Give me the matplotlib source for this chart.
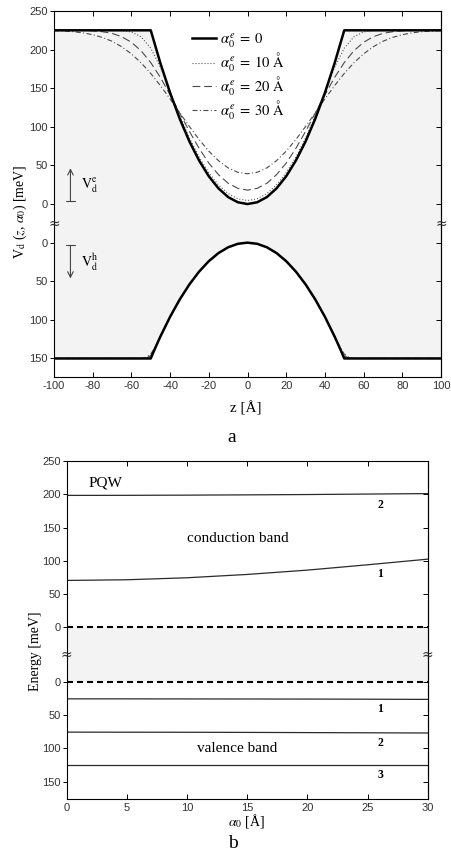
import numpy as np
import matplotlib
matplotlib.use("Agg")
import matplotlib.pyplot as plt
from matplotlib.transforms import blended_transform_factory

# ---------------- panel a : potential profiles ----------------
z_e = np.arange(-100, 101, 5)
# conduction band potential V_d^e [meV] for alpha0 = 0, 10, 20, 30 A
Ve_0 = [225, 225, 225, 225, 225, 225, 225, 225, 225, 225, 225,
        182.3, 144, 110.3, 81, 56.3, 36, 20.3, 9, 2.3, 0,
        2.3, 9, 20.3, 36, 56.3, 81, 110.3, 144, 182.3,
        225, 225, 225, 225, 225, 225, 225, 225, 225, 225, 225]
Ve_10 = [225, 225, 225, 225, 225, 225, 225, 224.6, 222.9, 216.6, 201.9,
         177.1, 146.1, 114.3, 85.5, 60.8, 40.5, 24.8, 13.5, 6.8, 4.5,
         6.8, 13.5, 24.8, 40.5, 60.8, 85.5, 114.3, 146.1, 177.1,
         201.9, 216.6, 222.9, 224.6, 225, 225, 225, 225, 225, 225, 225]
Ve_20 = [225, 225, 225, 224.8, 224.3, 223.2, 221.0, 216.7, 209.5, 198.5, 183.2,
         163.9, 141.5, 117.6, 94.0, 72.1, 53.1, 38.0, 26.9, 20.3, 18.0,
         20.3, 26.9, 38.0, 53.1, 72.1, 94.0, 117.6, 141.5, 163.9,
         183.2, 198.5, 209.5, 216.7, 221.0, 223.2, 224.3, 224.8, 225, 225, 225]
Ve_30 = [224.5, 224.0, 223.2, 221.7, 219.3, 215.8, 210.8, 203.7, 194.5, 182.9, 169.1,
         153.3, 136.1, 118.1, 100.4, 83.5, 68.5, 56.1, 46.8, 41.1, 39.2,
         41.1, 46.8, 56.1, 68.5, 83.5, 100.4, 118.1, 136.1, 153.3,
         169.1, 182.9, 194.5, 203.7, 210.8, 215.8, 219.3, 221.7, 223.2, 224.0, 224.5]

z_h = [-100, -60, -55, -52.5, -50, -47.5, -45, -40, -35, -30, -25, -20, -15, -10, -5, 0,
       5, 10, 15, 20, 25, 30, 35, 40, 45, 47.5, 50, 52.5, 55, 60, 100]
# valence band potential V_d^h [meV]
Vh_0 = [150, 150, 150, 150, 150, 135.4, 121.5, 96, 73.5, 54, 37.5, 24, 13.5, 6, 1.5, 0,
        1.5, 6, 13.5, 24, 37.5, 54, 73.5, 96, 121.5, 135.4, 150, 150, 150, 150, 150]
Vh_10 = [150, 150, 150, 149.9, 148.1, 135.5, 121.5, 96, 73.5, 54, 37.5, 24, 13.5, 6, 1.5, 0,
         1.5, 6, 13.5, 24, 37.5, 54, 73.5, 96, 121.5, 135.5, 148.1, 149.9, 150, 150, 150]
Vh_20 = [150, 150, 150, 149.8, 146.3, 135.3, 121.6, 96, 73.5, 54, 37.5, 24, 13.5, 6, 1.5, 0,
         1.5, 6, 13.5, 24, 37.5, 54, 73.5, 96, 121.6, 135.3, 146.3, 149.8, 150, 150, 150]
Vh_30 = [150, 150, 149.9, 148.8, 144.2, 134.5, 121.8, 96, 73.5, 54, 37.5, 24, 13.5, 6, 1.5, 0,
         1.5, 6, 13.5, 24, 37.5, 54, 73.5, 96, 121.8, 134.5, 144.2, 148.8, 149.9, 150, 150]

legend_labels = [r"$\alpha_0^e\;=\;0$", r"$\alpha_0^e\;=\;10\ \mathrm{Å}$",
                 r"$\alpha_0^e\;=\;20\ \mathrm{Å}$", r"$\alpha_0^e\;=\;30\ \mathrm{Å}$"]

# ---------------- panel b : subband energies ----------------
alpha0 = [0, 5, 10, 15, 20, 25, 30]
Ec_1 = [70.5, 71.5, 74.5, 79.5, 86.0, 94.0, 102.5]
Ec_2 = [198.3, 198.4, 198.7, 199.1, 199.6, 200.3, 201.0]
Ev_1 = [25.5, 25.5, 25.6, 25.7, 25.8, 26.0, 26.3]
Ev_2 = [75.5, 75.6, 75.7, 75.9, 76.2, 76.5, 76.8]
Ev_3 = [124.5, 124.5, 124.5, 124.5, 124.5, 124.5, 124.5]

up_ticks = [0, 50, 100, 150, 200, 250]
down_ticks = [0, 50, 100, 150]

GAP_A = 50   # empty space (meV units) at the axis break, panel a
GAP_B = 82   # same for panel b

plt.rcParams["font.family"] = "Liberation Serif"
plt.rcParams["mathtext.fontset"] = "stix"
plt.rcParams["axes.unicode_minus"] = False

FILL = "#f3f3f3"
TICKC = "#333333"


def down(v, gap):
    # holes are drawn downwards below the break
    return -gap - np.asarray(v, dtype=float)


def broken_axis(ax, gap, ymin, fs):
    ax.set_ylim(ymin, 250)
    pos = [-gap - t for t in down_ticks[::-1]] + up_ticks
    lab = [str(t) for t in down_ticks[::-1]] + [str(t) for t in up_ticks]
    ax.set_yticks(pos)
    ax.set_yticklabels(lab, fontfamily="Liberation Sans", fontsize=fs, color=TICKC)
    ax.tick_params(axis="y", direction="out", length=3, width=0.7, pad=1.5)
    ax.tick_params(axis="x", direction="in", length=3.5, width=0.7, top=True,
                   labelsize=fs, labelcolor=TICKC, pad=3)
    for lb in ax.get_xticklabels():
        lb.set_fontfamily("Liberation Sans")
    sec = ax.secondary_yaxis("right")
    sec.set_yticks(pos)
    sec.tick_params(direction="in", length=3.5, width=0.7, labelright=False)
    for s in ax.spines.values():
        s.set_linewidth(0.8)
    tr = blended_transform_factory(ax.transAxes, ax.transData)
    for xx in (0, 1):
        ax.text(xx, -gap / 2, "\u2248", transform=tr, ha="center", va="center",
                fontsize=10, family="DejaVu Sans", color="#333333", clip_on=False)


fig = plt.figure(figsize=(4.51, 8.66), dpi=100)
ax_a = fig.add_axes([54 / 451, 1 - 377 / 866, (441 - 54) / 451, (377 - 11) / 866])
ax_b = fig.add_axes([66.7 / 451, 1 - 799 / 866, (427.7 - 66.7) / 451, (799 - 461) / 866])

# ---- panel a ----
ax_a.fill(np.concatenate([z_e, z_h[::-1]]),
          np.concatenate([Ve_0, down(Vh_0, GAP_A)[::-1]]),
          color=FILL, lw=0, zorder=0)
styles = [dict(color="black", lw=1.8, ls="-"),
          dict(color="#4a4a4a", lw=0.8, ls=(0, (0.9, 1.8))),
          dict(color="#4a4a4a", lw=0.8, ls=(0, (7, 3.5))),
          dict(color="#4a4a4a", lw=0.8, ls=(0, (4.5, 2.2, 0.9, 2.2)))]
handles = []
for ve, vh, st in zip([Ve_0, Ve_10, Ve_20, Ve_30], [Vh_0, Vh_10, Vh_20, Vh_30], styles):
    h, = ax_a.plot(z_e, ve, **st, zorder=3 if st["lw"] > 1 else 2)
    ax_a.plot(z_h, down(vh, GAP_A), **st, zorder=3 if st["lw"] > 1 else 2)
    handles.append(h)

ax_a.set_xlim(-100, 100)
ax_a.set_xticks(range(-100, 101, 20))
broken_axis(ax_a, GAP_A, -224, 8)

fig.legend(handles, legend_labels, loc="upper left", bbox_to_anchor=(192 / 451, 1 - 31 / 866),
           frameon=False, fontsize=10.5, handlelength=1.65, handletextpad=0.25,
           labelspacing=0.05, borderpad=0, borderaxespad=0)

ax_a.annotate("", xy=(-91.5, 50), xytext=(-91.5, 0),
              arrowprops=dict(arrowstyle="]->,widthA=0.3,lengthA=0", color="#444444", lw=0.8))
ax_a.annotate("", xy=(-91.5, -GAP_A - 50), xytext=(-91.5, -GAP_A),
              arrowprops=dict(arrowstyle="]->,widthA=0.3,lengthA=0", color="#444444", lw=0.8))
ax_a.text(-86, 24, r"$\mathrm{V}_\mathrm{d}^\mathrm{e}$", fontsize=10, ha="left", va="center")
ax_a.text(-86, -GAP_A - 26, r"$\mathrm{V}_\mathrm{d}^\mathrm{h}$", fontsize=10, ha="left", va="center")

fig.text(20 / 451, 1 - 212 / 866, r"V$_\mathrm{d}$ ($z$, $\alpha_0$) [meV]",
         rotation=90, ha="center", va="center", fontsize=10)
fig.text(246 / 451, 1 - 408 / 866, "z [Å]", ha="center", va="center", fontsize=11)
fig.text(232 / 451, 1 - 438 / 866, "a", ha="center", va="center", fontsize=14)

# ---- panel b ----
ax_b.axhspan(-GAP_B, 0, color=FILL, lw=0, zorder=0)
ax_b.axhline(0, color="black", lw=1.5, ls=(0, (2.9, 1.9)), zorder=3)
ax_b.axhline(-GAP_B, color="black", lw=1.5, ls=(0, (2.9, 1.9)), zorder=3)
for ev in [Ec_1, Ec_2]:
    ax_b.plot(alpha0, ev, color="#2a2a2a", lw=0.9)
for hv in [Ev_1, Ev_2, Ev_3]:
    ax_b.plot(alpha0, down(hv, GAP_B), color="#2a2a2a", lw=0.9)

ax_b.set_xlim(0, 30)
ax_b.set_xticks(range(0, 31, 5))
broken_axis(ax_b, GAP_B, -258, 8)

ax_b.text(1.8, 217, "PQW", fontsize=11, ha="left", va="center")
ax_b.text(14.25, 133, "conduction band", fontsize=11, ha="center", va="center")
ax_b.text(14.2, -GAP_B - 99.5, "valence band", fontsize=11, ha="center", va="center")
for yy, s in [(184, "2"), (80, "1"), (-GAP_B - 41, "1"), (-GAP_B - 91.6, "2"), (-GAP_B - 140, "3")]:
    ax_b.text(26.05, yy, s, fontsize=8.5, fontweight="bold", ha="center", va="center")

fig.text(36 / 451, 1 - 651 / 866, "Energy [meV]", rotation=90, ha="center", va="center", fontsize=10)
fig.text(246 / 451, 1 - 821 / 866, r"$\alpha_0$ [Å]", ha="center", va="center", fontsize=10)
fig.text(233 / 451, 1 - 843 / 866, "b", ha="center", va="center", fontsize=14)

fig.savefig("out.png", dpi=100)
